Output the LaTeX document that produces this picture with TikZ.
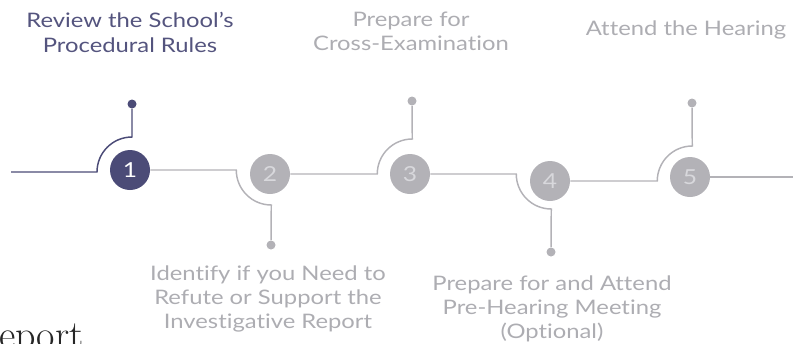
\documentclass[tikz,border=0pt]{standalone}
\usepackage{fontspec}
\setsansfont{Lato}[FakeStretch=1.19, Ligatures=NoCommon]
\usetikzlibrary{positioning}
\definecolor{StepNavy}{HTML}{4B4B77}
\definecolor{StepGray}{HTML}{B3B2B7}
\definecolor{NumGray}{HTML}{D8D8DC}
\definecolor{LabelGray}{HTML}{ADADB2}
\tikzset{
  stepdone/.style={circle, fill=StepNavy, text=white, minimum size=30pt,
    inner sep=0pt, font=\sffamily\fontsize{15.5}{18}\selectfont},
  steptodo/.style={circle, fill=StepGray, text=NumGray, minimum size=30pt,
    inner sep=0pt, font=\sffamily\fontsize{15.5}{18}\selectfont},
  knobdone/.style={circle, fill=StepNavy, minimum size=6.75pt, inner sep=0pt},
  knobtodo/.style={circle, fill=StepGray, minimum size=6.75pt, inner sep=0pt},
  linkdone/.style={draw=StepNavy, line width=1.1pt},
  linktodo/.style={draw=StepGray, line width=1.1pt},
  labeldone/.style={align=center, text=StepNavy!95, inner sep=0pt,
    font=\sffamily\fontsize{15}{18.5}\selectfont},
  labeltodo/.style={align=center, text=LabelGray, inner sep=0pt,
    font=\sffamily\fontsize{15}{18}\selectfont},
}

\begin{document}
\begin{tikzpicture}[x=0.75pt, y=0.75pt]
  \useasboundingbox (0,0) rectangle (812,-343);
  % steps
  \node[stepdone] (c1) at (130,-170) {1};
  \node[steptodo] (c2) at (270,-174) {2};
  \node[steptodo] (c3) at (410,-174) {3};
  \node[steptodo] (c4) at (550,-181) {4};
  \node[steptodo] (c5) at (690,-177) {5};
  % knobs
  \node[knobdone] (d1) at (132,-104) {};
  \node[knobtodo] (d2) at (271,-245) {};
  \node[knobtodo] (d3) at (412,-101) {};
  \node[knobtodo] (d4) at (551,-252) {};
  \node[knobtodo] (d5) at (692,-103) {};
  \coordinate (s0) at (11,-172);
  \coordinate (e5) at (793,-177);
  % links
  \draw[linkdone] (s0) -- ++(86,0) arc[start angle=180, end angle=90, radius=35] -- (d1);
  \draw[linktodo] (c1.east) -- ++(86,0) arc[start angle=180, end angle=270, radius=35] -- (d2);
  \draw[linktodo] (c2.east) -- ++(87,0) arc[start angle=180, end angle=90, radius=35] -- (d3);
  \draw[linktodo] (c3.east) -- ++(86,0) arc[start angle=180, end angle=270, radius=35] -- (d4);
  \draw[linktodo] (c4.east) -- ++(87,0) arc[start angle=180, end angle=90, radius=35] -- (d5);
  \draw[linktodo] (c5.east) -- (e5);
  % labels
  \node[labeldone, anchor=north] (t1) at (130,-12) {Review the School’s\\Procedural Rules};
  \node[labeltodo, anchor=north] (t3) at (411,-12) {Prepare for\\Cross-Examination};
  \node[labeltodo, anchor=north] (t5) at (686,-21) {Attend the Hearing};
  \node[labeltodo, anchor=north] (b2) at (268,-265) {Identify if you Need to\\Refute or Support the\\Investigative Report};
  \node[labeltodo, anchor=north] (b4) at (552,-275) {Prepare for and Attend\\Pre-Hearing Meeting\\(Optional)};
  \node[anchor=base west, inner sep=0pt, text=black!85,
    font=\fontsize{30}{34}\selectfont] (frag) at (-1,-348) {eport};
\end{tikzpicture}
\end{document}
